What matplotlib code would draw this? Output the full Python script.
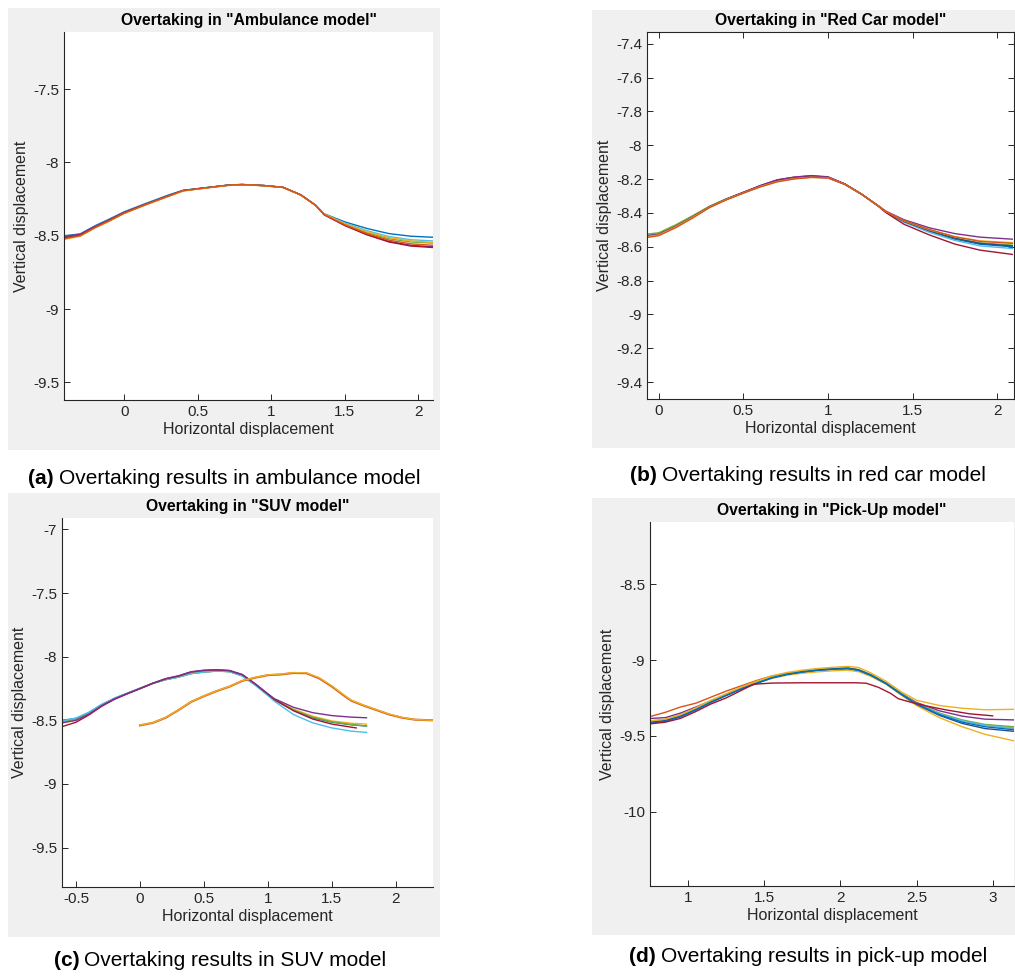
import numpy as np
import matplotlib.pyplot as plt
from matplotlib.patches import Rectangle
from matplotlib.ticker import FuncFormatter

plt.rcParams['font.family'] = ['Liberation Sans', 'DejaVu Sans']
plt.rcParams['axes.unicode_minus'] = False

# MATLAB default colour order
blue, orange, yellow, purple, green, cyan, maroon = (
    '#0072BD', '#D95319', '#EDB120', '#7E2F8E', '#77AC30', '#4DBEEE', '#A2142F')

# --- (a) Ambulance model ---
x_amb = [-0.41, -0.3, -0.2, -0.1, 0.0, 0.15, 0.3, 0.4, 0.55, 0.7, 0.8, 0.95, 1.08,
         1.2, 1.3, 1.36, 1.5, 1.65, 1.8, 1.95, 2.1]
amb_blue = [-8.500, -8.487, -8.432, -8.385, -8.336, -8.278, -8.222, -8.190, -8.172, -8.155, -8.150,
            -8.157, -8.169, -8.220, -8.290, -8.350, -8.405, -8.450, -8.485, -8.503, -8.510]
amb_orange = [-8.520, -8.500, -8.445, -8.397, -8.346, -8.286, -8.230, -8.193, -8.174, -8.156, -8.151,
              -8.158, -8.170, -8.221, -8.291, -8.355, -8.425, -8.485, -8.530, -8.555, -8.565]
amb_yellow = [-8.525, -8.503, -8.447, -8.400, -8.348, -8.288, -8.232, -8.195, -8.175, -8.157, -8.152,
              -8.158, -8.171, -8.222, -8.292, -8.352, -8.418, -8.472, -8.512, -8.535, -8.545]
amb_purple = [-8.505, -8.490, -8.437, -8.390, -8.340, -8.282, -8.226, -8.191, -8.173, -8.155, -8.150,
              -8.157, -8.170, -8.221, -8.291, -8.356, -8.428, -8.490, -8.538, -8.565, -8.575]
amb_green = [-8.510, -8.493, -8.440, -8.393, -8.342, -8.284, -8.228, -8.192, -8.173, -8.156, -8.151,
             -8.158, -8.170, -8.221, -8.291, -8.353, -8.421, -8.478, -8.520, -8.542, -8.550]
amb_cyan = [-8.505, -8.490, -8.436, -8.389, -8.339, -8.281, -8.225, -8.191, -8.173, -8.155, -8.150,
            -8.157, -8.169, -8.220, -8.290, -8.351, -8.413, -8.465, -8.505, -8.527, -8.535]
amb_maroon = [-8.515, -8.497, -8.442, -8.395, -8.344, -8.285, -8.229, -8.192, -8.174, -8.156, -8.151,
              -8.158, -8.170, -8.221, -8.291, -8.357, -8.430, -8.493, -8.542, -8.570, -8.580]

# --- (b) Red car model ---
x_red = [-0.07, 0.0, 0.1, 0.2, 0.3, 0.4, 0.5, 0.6, 0.7, 0.8, 0.9, 1.0, 1.1, 1.2, 1.3,
         1.34, 1.45, 1.6, 1.75, 1.9, 2.09]
red_blue = [-8.535, -8.525, -8.478, -8.422, -8.363, -8.318, -8.279, -8.240, -8.208, -8.192, -8.184,
            -8.190, -8.230, -8.290, -8.360, -8.392, -8.452, -8.508, -8.555, -8.585, -8.600]
red_orange = [-8.545, -8.534, -8.487, -8.430, -8.368, -8.322, -8.283, -8.246, -8.216, -8.199, -8.190,
              -8.193, -8.231, -8.290, -8.360, -8.390, -8.445, -8.498, -8.541, -8.568, -8.580]
red_yellow = [-8.540, -8.530, -8.483, -8.426, -8.366, -8.320, -8.282, -8.244, -8.214, -8.197, -8.189,
              -8.192, -8.231, -8.290, -8.360, -8.390, -8.446, -8.500, -8.540, -8.565, -8.575]
red_purple = [-8.535, -8.526, -8.480, -8.424, -8.364, -8.318, -8.278, -8.238, -8.204, -8.188, -8.179,
              -8.186, -8.228, -8.289, -8.359, -8.388, -8.440, -8.488, -8.522, -8.543, -8.555]
red_green = [-8.525, -8.517, -8.470, -8.416, -8.360, -8.316, -8.278, -8.240, -8.209, -8.193, -8.185,
             -8.191, -8.230, -8.290, -8.360, -8.391, -8.449, -8.504, -8.550, -8.577, -8.590]
red_cyan = [-8.530, -8.521, -8.475, -8.420, -8.362, -8.317, -8.279, -8.241, -8.210, -8.194, -8.186,
            -8.191, -8.230, -8.290, -8.361, -8.393, -8.455, -8.515, -8.562, -8.595, -8.610]
red_maroon = [-8.540, -8.530, -8.482, -8.425, -8.365, -8.319, -8.279, -8.239, -8.205, -8.189, -8.181,
              -8.188, -8.229, -8.290, -8.362, -8.396, -8.467, -8.530, -8.584, -8.620, -8.645]
red_blue2 = [-8.538, -8.528, -8.481, -8.425, -8.365, -8.320, -8.281, -8.243, -8.212, -8.196, -8.188,
             -8.192, -8.231, -8.290, -8.360, -8.391, -8.450, -8.505, -8.550, -8.580, -8.595]

# --- (c) SUV model ---
x_suv = [-0.61, -0.5, -0.4, -0.3, -0.2, -0.1, 0.0, 0.1, 0.2, 0.3, 0.4, 0.5, 0.6, 0.7, 0.8,
         0.9, 1.0, 1.05, 1.2, 1.35, 1.5, 1.65, 1.77]
suv_blue = [-8.500, -8.485, -8.440, -8.378, -8.328, -8.288, -8.248, -8.210, -8.180, -8.160, -8.132,
            -8.120, -8.112, -8.116, -8.150, -8.220, -8.300, -8.340, -8.420, -8.480, -8.515, -8.535, -8.545]
suv_purple = [-8.520, -8.500, -8.452, -8.385, -8.332, -8.290, -8.250, -8.208, -8.172, -8.150, -8.118,
              -8.106, -8.102, -8.108, -8.140, -8.212, -8.292, -8.330, -8.398, -8.440, -8.463, -8.475, -8.480]
suv_green = [-8.510, -8.492, -8.445, -8.381, -8.330, -8.289, -8.249, -8.210, -8.180, -8.160, -8.132,
             -8.120, -8.112, -8.117, -8.150, -8.220, -8.300, -8.340, -8.418, -8.475, -8.512, -8.533, -8.545]
suv_cyan = [-8.505, -8.482, -8.436, -8.374, -8.325, -8.286, -8.247, -8.210, -8.180, -8.160, -8.133,
            -8.121, -8.113, -8.118, -8.152, -8.224, -8.306, -8.350, -8.455, -8.520, -8.560, -8.585, -8.595]
suv_yellow = [-8.520, -8.498, -8.449, -8.383, -8.331, -8.290, -8.250, -8.211, -8.181, -8.161, -8.133,
              -8.121, -8.113, -8.118, -8.150, -8.219, -8.298, -8.337, -8.412, -8.468, -8.505, -8.523, -8.530]
x_suv_short = [-0.61, -0.5, -0.4, -0.3, -0.2, -0.1, 0.0, 0.1, 0.2, 0.3, 0.4, 0.5, 0.6, 0.7, 0.8,
               0.9, 1.0, 1.05, 1.2, 1.35, 1.5, 1.69]
suv_maroon = [-8.550, -8.515, -8.458, -8.390, -8.335, -8.292, -8.252, -8.209, -8.174, -8.152, -8.120,
              -8.108, -8.104, -8.110, -8.142, -8.214, -8.295, -8.336, -8.425, -8.490, -8.530, -8.560]
x_suv2 = [0.0, 0.1, 0.2, 0.3, 0.4, 0.5, 0.6, 0.7, 0.8, 0.9, 1.0, 1.1, 1.2, 1.3, 1.4, 1.5,
          1.6, 1.65, 1.75, 1.85, 1.95, 2.05, 2.15, 2.29]
suv2_orange = [-8.540, -8.520, -8.480, -8.420, -8.355, -8.310, -8.270, -8.235, -8.190, -8.165, -8.145,
               -8.140, -8.128, -8.130, -8.170, -8.235, -8.310, -8.345, -8.385, -8.420, -8.455, -8.480, -8.495, -8.500]
suv2_yellow = [-8.538, -8.518, -8.478, -8.418, -8.353, -8.308, -8.268, -8.233, -8.188, -8.163, -8.143,
               -8.137, -8.125, -8.127, -8.165, -8.230, -8.305, -8.341, -8.382, -8.417, -8.452, -8.478, -8.494, -8.500]

# --- (d) Pick-Up model ---
x_pk = [0.76, 0.85, 0.95, 1.05, 1.15, 1.25, 1.35, 1.45, 1.55, 1.65, 1.75, 1.85, 1.95, 2.05,
        2.12, 2.2, 2.3, 2.4, 2.5, 2.65, 2.8, 2.95, 3.14]
pk_blue = [-9.415, -9.405, -9.375, -9.330, -9.280, -9.235, -9.190, -9.155, -9.118, -9.095, -9.079, -9.068,
           -9.061, -9.057, -9.068, -9.100, -9.155, -9.225, -9.290, -9.360, -9.410, -9.440, -9.460]
pk_orange = [-9.370, -9.345, -9.310, -9.285, -9.245, -9.205, -9.170, -9.135, -9.105, -9.088, -9.074, -9.064,
             -9.057, -9.053, -9.064, -9.097, -9.152, -9.222, -9.285, -9.355, -9.400, -9.430, -9.450]
pk_yellow = [-9.400, -9.390, -9.360, -9.315, -9.265, -9.222, -9.178, -9.140, -9.105, -9.082, -9.067, -9.056,
             -9.048, -9.042, -9.050, -9.085, -9.140, -9.210, -9.265, -9.300, -9.318, -9.328, -9.325]
pk_purple = [-9.385, -9.380, -9.350, -9.310, -9.270, -9.228, -9.185, -9.150, -9.115, -9.093, -9.078, -9.067,
             -9.060, -9.056, -9.067, -9.100, -9.155, -9.222, -9.280, -9.335, -9.370, -9.390, -9.395]
pk_green = [-9.405, -9.395, -9.365, -9.322, -9.272, -9.228, -9.185, -9.148, -9.113, -9.090, -9.075, -9.064,
            -9.057, -9.053, -9.064, -9.097, -9.152, -9.222, -9.285, -9.350, -9.395, -9.425, -9.440]
pk_cyan = [-9.410, -9.400, -9.370, -9.325, -9.275, -9.230, -9.187, -9.150, -9.115, -9.093, -9.078, -9.067,
           -9.060, -9.056, -9.067, -9.100, -9.155, -9.225, -9.288, -9.355, -9.400, -9.430, -9.450]
pk_blue2 = [-9.410, -9.400, -9.372, -9.328, -9.278, -9.233, -9.190, -9.153, -9.117, -9.094, -9.078, -9.066,
            -9.058, -9.054, -9.066, -9.099, -9.155, -9.226, -9.292, -9.365, -9.418, -9.452, -9.470]
pk_yellow2 = [-9.400, -9.392, -9.360, -9.318, -9.270, -9.227, -9.185, -9.152, -9.122, -9.100, -9.087, -9.078,
              -9.071, -9.067, -9.077, -9.108, -9.160, -9.232, -9.300, -9.380, -9.440, -9.490, -9.533]
x_pk_maroon = [0.76, 0.85, 0.95, 1.05, 1.15, 1.25, 1.35, 1.43, 1.55, 1.75, 1.95, 2.1, 2.17, 2.25,
               2.33, 2.38, 2.45, 2.55, 2.7, 2.85, 3.0]
pk_maroon = [-9.420, -9.410, -9.385, -9.340, -9.290, -9.250, -9.200, -9.160, -9.152, -9.150, -9.150, -9.150,
             -9.153, -9.180, -9.220, -9.255, -9.275, -9.300, -9.330, -9.355, -9.368]

W, H = 1015, 976
fig = plt.figure(figsize=(W / 100, H / 100), dpi=100)
ink = '#262626'


def gray_box(x0, y0, x1, y1):
    fig.add_artist(Rectangle((x0 / W, 1 - y1 / H), (x1 - x0) / W, (y1 - y0) / H,
                             transform=fig.transFigure, facecolor='#f0f0f0',
                             edgecolor='none', zorder=-1))


def panel(l, t, r, b, title, xlim, ylim, xticks, yticks, box=False):
    ax = fig.add_axes([l / W, 1 - b / H, (r - l) / W, (b - t) / H])
    ax.set_xlim(xlim)
    ax.set_ylim(ylim)
    ax.set_xticks(xticks)
    ax.set_yticks(yticks)
    fmt = FuncFormatter(lambda v, p: '%g' % v)
    ax.xaxis.set_major_formatter(fmt)
    ax.yaxis.set_major_formatter(fmt)
    ax.tick_params(direction='in', length=4, width=0.7, color=ink, labelcolor=ink,
                   labelsize=11, top=box, right=box)
    for s in ax.spines.values():
        s.set_color(ink)
        s.set_linewidth(0.8)
    ax.spines['top'].set_visible(box)
    ax.spines['right'].set_visible(box)
    ax.set_title(title, fontsize=11.3, fontweight='bold', pad=5)
    ax.set_xlabel('Horizontal displacement', fontsize=11.5, color=ink, labelpad=2)
    ax.set_ylabel('Vertical displacement', fontsize=11.5, color=ink, labelpad=3)
    return ax


gray_box(8, 8, 440, 450)
gray_box(592, 10, 1015, 448)
gray_box(8, 493, 440, 937)
gray_box(592, 498, 1015, 935)

lw = 1.0

ax = panel(64, 32, 433, 400, 'Overtaking in "Ambulance model"', (-0.41, 2.1), (-9.62, -7.11),
           [0, 0.5, 1, 1.5, 2], [-9.5, -9, -8.5, -8, -7.5])
for y, c in [(amb_blue, blue), (amb_cyan, cyan), (amb_green, green), (amb_purple, purple),
             (amb_maroon, maroon), (amb_yellow, yellow), (amb_orange, orange)]:
    ax.plot(x_amb, y, color=c, lw=lw)

ax = panel(647, 32, 1014, 399, 'Overtaking in "Red Car model"', (-0.07, 2.1), (-9.5, -7.33),
           [0, 0.5, 1, 1.5, 2], [-9.4, -9.2, -9, -8.8, -8.6, -8.4, -8.2, -8, -7.8, -7.6, -7.4], box=True)
for y, c in [(red_blue, blue), (red_cyan, cyan), (red_green, green), (red_blue2, '#1f4e8c'),
             (red_maroon, maroon), (red_purple, purple), (red_yellow, yellow), (red_orange, orange)]:
    ax.plot(x_red, y, color=c, lw=lw)

ax = panel(62, 518, 433, 887, 'Overtaking in "SUV model"', (-0.61, 2.29), (-9.81, -6.91),
           [-0.5, 0, 0.5, 1, 1.5, 2], [-9.5, -9, -8.5, -8, -7.5, -7])
for y, c in [(suv_blue, blue), (suv_yellow, yellow), (suv_green, green), (suv_cyan, cyan)]:
    ax.plot(x_suv, y, color=c, lw=lw)
ax.plot(x_suv_short, suv_maroon, color=maroon, lw=lw)
ax.plot(x_suv, suv_purple, color=purple, lw=lw)
ax.plot(x_suv2, suv2_orange, color=orange, lw=1.5)
ax.plot(x_suv2, suv2_yellow, color=yellow, lw=lw)

ax = panel(650, 522, 1014, 886, 'Overtaking in "Pick-Up model"', (0.75, 3.14), (-10.49, -8.09),
           [1, 1.5, 2, 2.5, 3], [-10, -9.5, -9, -8.5])
for y, c in [(pk_yellow2, yellow), (pk_orange, orange), (pk_purple, purple), (pk_green, green),
             (pk_cyan, cyan), (pk_blue2, '#1f4e8c'), (pk_blue, blue), (pk_yellow, yellow)]:
    ax.plot(x_pk, y, color=c, lw=lw)
ax.plot(x_pk_maroon, pk_maroon, color=maroon, lw=lw)

# captions: bold tag followed by regular text, centred as a whole
renderer = fig.canvas.get_renderer()
captions = [(224, 478, '(a)', 'Overtaking results in ambulance model'),
            (808, 476, '(b)', 'Overtaking results in red car model'),
            (220, 960, '(c)', 'Overtaking results in SUV model'),
            (808, 957, '(d)', 'Overtaking results in pick-up model')]
for cx, cy, tag, rest in captions:
    t1 = fig.text(0, 0, tag, fontsize=15, fontweight='bold', va='center')
    t2 = fig.text(0, 0, rest, fontsize=15, va='center')
    w1 = t1.get_window_extent(renderer).width
    w2 = t2.get_window_extent(renderer).width
    gap = 5
    x0 = cx - (w1 + gap + w2) / 2
    t1.set_position((x0 / W, 1 - cy / H))
    t2.set_position(((x0 + w1 + gap) / W, 1 - cy / H))

fig.savefig('out.png', dpi=100, facecolor='white')
